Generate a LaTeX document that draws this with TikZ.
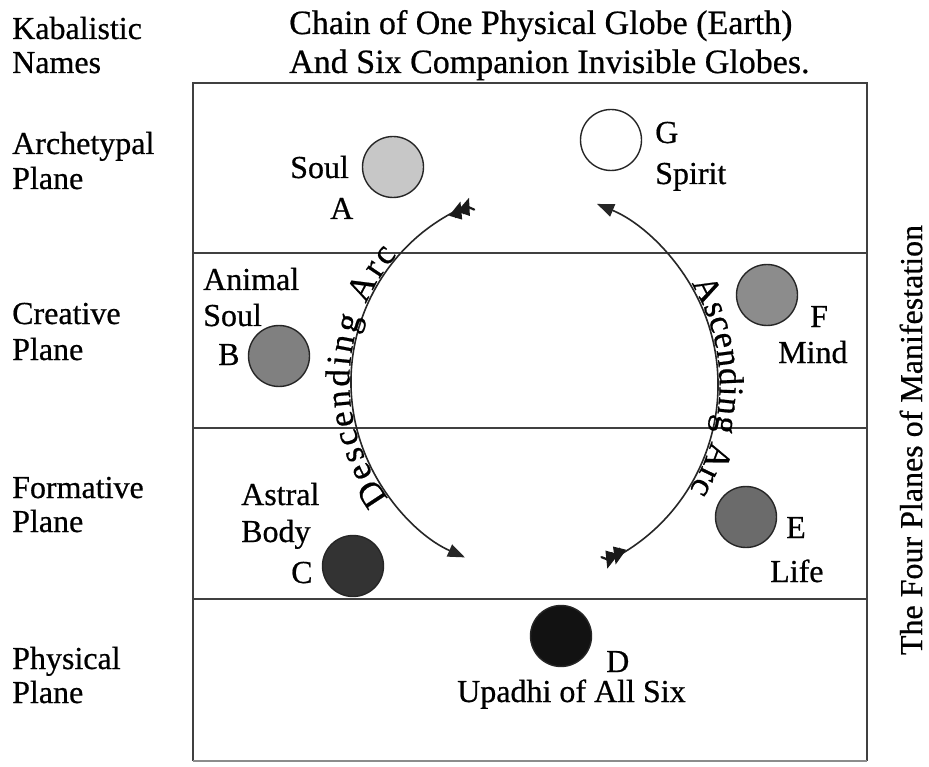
\documentclass[tikz,border=0pt]{standalone}
\usepackage{fontspec}
\setmainfont{Liberation Serif}[FakeBold=0.6]
\usetikzlibrary{arrows.meta,decorations.text,decorations.markings}
\newcommand{\lblfont}{\fontsize{32}{34}\selectfont}
\newcommand{\ttlfont}{\fontsize{34}{36}\selectfont}
\newcommand{\arcfont}{\fontsize{35}{36}\selectfont}
\begin{document}
\begin{tikzpicture}[x=1pt,y=-1pt,
  lbl/.style={font=\lblfont, inner sep=0pt, anchor=base west},
  ttl/.style={font=\ttlfont, inner sep=0pt, anchor=base west},
  globe/.style={circle, draw=black!85, line width=1.4pt, minimum size=61pt, inner sep=0pt},
  plane/.style={line width=2.2pt, draw=black!75},
  arcline/.style={line width=1.6pt, draw=black!85},
  chev/.style={line width=2.2pt, line cap=round, line join=round, draw=black!90},
  arrowpath/.style={arcline, -{Triangle[length=17pt,width=13pt]},
    postaction={decorate, decoration={markings,
      mark=at position 2pt with {\draw[chev] (-6pt,6.5pt) -- (0pt,0pt) -- (-6pt,-6.5pt);},
      mark=at position 11pt with {\draw[chev] (-6pt,6.5pt) -- (0pt,0pt) -- (-6pt,-6.5pt);}}}},
]
\useasboundingbox (0,0) rectangle (929,767);
\fill[white] (0,0) rectangle (929,767);

% planes
\coordinate (tl) at (193,83);
\coordinate (tr) at (867,83);
\coordinate (bl) at (193,761);
\coordinate (br) at (867,761);
\draw[plane] (bl) -- (tl) -- (tr) -- (br);
\draw[line width=1.2pt, draw=black!45] (bl) -- (br);
\draw[plane] (193,253) -- (867,253);
\draw[plane] (193,428) -- (867,428);
\draw[plane] (193,599) -- (867,599);

% headings
\node[lbl] (kab) at (12,39) {Kabalistic};
\node[lbl] (names) at (12,73) {Names};
\node[ttl] (t1) at (289,34) {Chain of One Physical Globe (Earth)};
\node[ttl] (t2) at (289,73) {And Six Companion Invisible Globes.};

% plane labels
\node[lbl] (p1a) at (12,154) {Archetypal};
\node[lbl] (p1b) at (12,189) {Plane};
\node[lbl] (p2a) at (12,324) {Creative};
\node[lbl] (p2b) at (12,360) {Plane};
\node[lbl] (p3a) at (12,498) {Formative};
\node[lbl] (p3b) at (12,532) {Plane};
\node[lbl] (p4a) at (12,669) {Physical};
\node[lbl] (p4b) at (12,703) {Plane};

\node[font=\lblfont, rotate=90, inner sep=0pt] (four) at (911,440) {The Four Planes of Manifestation};

% arcs
\coordinate (o1) at (543,382);
\coordinate (o2) at (522,385);
\path (o1) ++(247:192) coordinate (dS);
\path (o2) ++(64:196) coordinate (aS);
\draw[arrowpath] (dS) arc[start angle=247, end angle=114, radius=192];
\draw[arrowpath] (aS) arc[start angle=64, end angle=-67.5, radius=196];

\path[decorate, decoration={text along path, text={|\arcfont|Descending Arc}, text align=fit to path, raise=1.5pt}]
  (o1) ++(143:192) arc[start angle=143, end angle=221, radius=192];
\path[decorate, decoration={text along path, text={|\arcfont|Ascending Arc}, text align=fit to path, raise=1.5pt}]
  (o2) ++(-31:196) arc[start angle=-31, end angle=32, radius=196];

% globes
\node[globe, fill=black!22] (gA) at (393,167) {};
\node[globe, fill=white] (gG) at (611,140) {};
\node[globe, fill=black!50] (gB) at (279,356) {};
\node[globe, fill=black!45] (gF) at (767,295) {};
\node[globe, fill=black!58] (gE) at (746,517) {};
\node[globe, fill=black!80] (gC) at (353,566) {};
\node[globe, fill=black!93] (gD) at (561,636) {};

% globe labels
\node[lbl] (lA1) at (290,178) {Soul};
\node[lbl] (lA2) at (330,219) {A};
\node[lbl] (lG1) at (655,143) {G};
\node[lbl] (lG2) at (655,184) {Spirit};
\node[lbl] (lB1) at (203,290) {Animal};
\node[lbl] (lB2) at (203,326) {Soul};
\node[lbl] (lB3) at (218,365) {B};
\node[lbl] (lF1) at (810,327) {F};
\node[lbl] (lF2) at (778,363) {Mind};
\node[lbl] (lC1) at (241,505) {Astral};
\node[lbl] (lC2) at (241,542) {Body};
\node[lbl] (lC3) at (291,583) {C};
\node[lbl] (lE1) at (786,538) {E};
\node[lbl] (lE2) at (770,582) {Life};
\node[lbl] (lD1) at (606,672) {D};
\node[lbl] (lD2) at (457,702) {Upadhi of All Six};
\end{tikzpicture}
\end{document}
